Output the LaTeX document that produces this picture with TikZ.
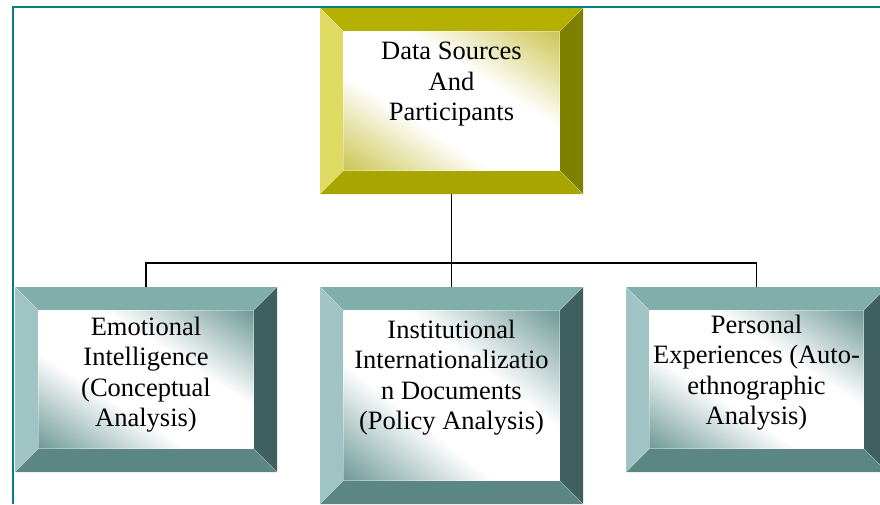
\documentclass[tikz,border=0pt]{standalone}
\usepackage{fontspec}
\setmainfont{Liberation Serif}
\newfontfamily\boxserif{Liberation Serif}
\usetikzlibrary{positioning,calc}

\definecolor{frameteal}{HTML}{008080}
\definecolor{ytop}{HTML}{B4AF00}
\definecolor{yleft}{HTML}{DEDA62}
\definecolor{yright}{HTML}{808000}
\definecolor{ybot}{HTML}{A8A400}
\definecolor{ttop}{HTML}{80AEAB}
\definecolor{tleft}{HTML}{A0C4C3}
\definecolor{tright}{HTML}{3F605E}
\definecolor{tbot}{HTML}{5B8683}

% white along the middle diagonal, tint towards top right and bottom left
\pgfdeclarefunctionalshading{yface}{\pgfpoint{0bp}{0bp}}{\pgfpoint{100bp}{100bp}}{}{
  add 100 sub 50 div abs 0.3 sub 0.7 div
  dup 0 lt {pop 0} if dup 1 gt {pop 1} if
  dup 0.20 mul 1 exch sub
  exch dup 0.23 mul 1 exch sub
  exch 0.68 mul 1 exch sub
}
\pgfdeclarefunctionalshading{tface}{\pgfpoint{0bp}{0bp}}{\pgfpoint{100bp}{100bp}}{}{
  add 100 sub 50 div abs 0.3 sub 0.7 div
  dup 0 lt {pop 0} if dup 1 gt {pop 1} if
  dup 0.57 mul 1 exch sub
  exch dup 0.40 mul 1 exch sub
  exch 0.41 mul 1 exch sub
}

\newcommand{\bev}{23.5pt}
\newcommand{\boxfont}{\boxserif\fontsize{26.5}{30.5}\selectfont}

\tikzset{
  bevelbox/.style n args={5}{rectangle, inner sep=0pt,
    path picture={
      \coordinate (pnw) at (path picture bounding box.north west);
      \coordinate (pne) at (path picture bounding box.north east);
      \coordinate (psw) at (path picture bounding box.south west);
      \coordinate (pse) at (path picture bounding box.south east);
      \fill[#1] (pnw) -- (pne) -- ($(pne)+(-\bev,-\bev)$) -- ($(pnw)+(\bev,-\bev)$) -- cycle;
      \fill[#2] (pnw) -- ($(pnw)+(\bev,-\bev)$) -- ($(psw)+(\bev,\bev)$) -- (psw) -- cycle;
      \fill[#3] (pne) -- (pse) -- ($(pse)+(-\bev,\bev)$) -- ($(pne)+(-\bev,-\bev)$) -- cycle;
      \fill[#4] (psw) -- (pse) -- ($(pse)+(-\bev,\bev)$) -- ($(psw)+(\bev,\bev)$) -- cycle;
      \shade[shading=#5] ($(psw)+(\bev,\bev)$) rectangle ($(pne)+(-\bev,-\bev)$);
      \draw[white, opacity=0.35, line width=0.6pt]
        ($(psw)+(\bev,\bev)$) rectangle ($(pne)+(-\bev,-\bev)$)
        (pnw) -- ($(pnw)+(\bev,-\bev)$) (pne) -- ($(pne)+(-\bev,-\bev)$)
        (psw) -- ($(psw)+(\bev,\bev)$) (pse) -- ($(pse)+(-\bev,\bev)$);
    }},
  ybox/.style={bevelbox={ytop}{yleft}{yright}{ybot}{yface}},
  tbox/.style={bevelbox={ttop}{tleft}{tright}{tbot}{tface}},
  boxtext/.style={anchor=north, align=center, inner sep=0pt, font=\boxfont},
  conn/.style={draw=black, line width=1.8pt},
  frame/.style={draw=frameteal, line width=2pt}
}

\begin{document}
\begin{tikzpicture}[x=1pt, y=-1pt]
  \useasboundingbox (0,0) rectangle (880,504);
  \clip (0,0) rectangle (880,504);
  \fill[white] (0,0) rectangle (880,504);

  % outer frame
  \draw[frame] (880,6.5) -- (12.5,6.5) -- (12.5,504);

  % boxes
  \node[ybox, minimum width=263pt, minimum height=186pt,
        label={[boxtext, yshift=-34pt]north:{Data Sources\\And\\Participants}}]
        (src) at (451.5,101) {};
  \node[tbox, minimum width=262pt, minimum height=185pt,
        label={[boxtext, yshift=-30pt]north:{Emotional\\Intelligence\\(Conceptual\\Analysis)}}]
        (emo) at (146,379.5) {};
  \node[tbox, minimum width=263pt, minimum height=217pt,
        label={[boxtext, yshift=-33pt]north:{Institutional\\Internationalizatio\\n Documents\\(Policy Analysis)}}]
        (inst) at (451.5,395.5) {};
  \node[tbox, minimum width=261pt, minimum height=185pt,
        label={[boxtext, yshift=-28pt]north:{Personal\\Experiences (Auto-\\ethnographic\\Analysis)}}]
        (pers) at (756.5,379.5) {};

  % connectors
  \coordinate (jn) at (451.5,263);
  \path[conn] (src.south) -- (inst.north);
  \path[conn] (emo.north) |- (jn) -| (pers.north);
\end{tikzpicture}
\end{document}
